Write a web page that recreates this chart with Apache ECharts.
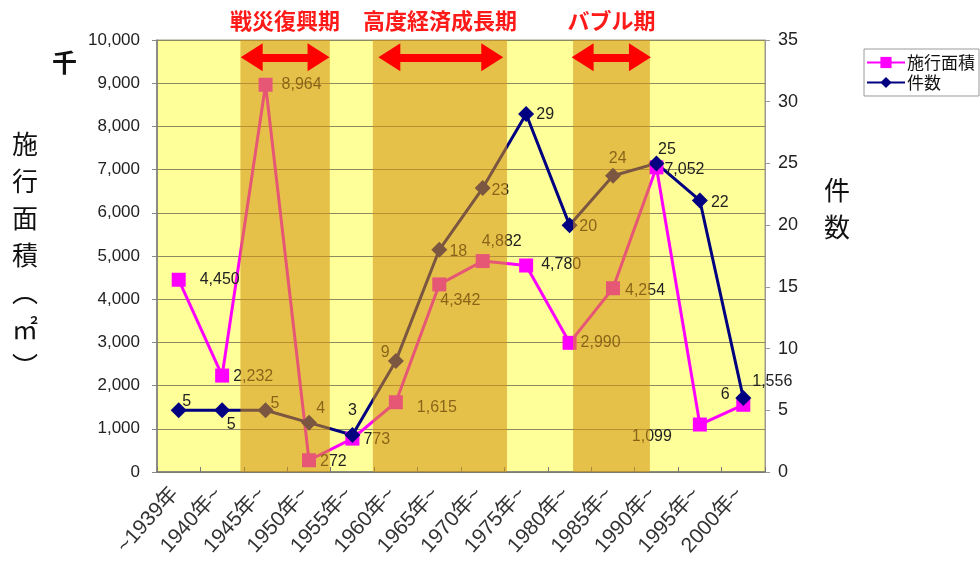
<!DOCTYPE html>
<html><head><meta charset="utf-8">
<script src="https://cdn.jsdelivr.net/npm/echarts@6/dist/echarts.min.js"></script>
<style>html,body{margin:0;padding:0;background:#fff}#c{width:980px;height:573px}</style>
</head><body><div id="c"></div>
<script>
// ---- data ----
const categories = ['~1939年','1940年~','1945年~','1950年~','1955年~','1960年~','1965年~','1970年~','1975年~','1980年~','1985年~','1990年~','1995年~','2000年~'];
const areaValues = [4450, 2232, 8964, 272, 773, 1615, 4342, 4882, 4780, 2990, 4254, 7052, 1099, 1556];
const countValues = [5, 5, 5, 4, 3, 9, 18, 23, 29, 20, 24, 25, 22, 6];
const leftAxisRange = [0, 10000, 1000];
const rightAxisRange = [0, 35, 5];
const periodNames = ['戦災復興期', '高度経済成長期', 'バブル期'];
const periodStart = [1.92, 4.97, 9.58];   // in category units
const periodEnd = [3.98, 8.06, 11.35];
const arrowStart = [2.18, 5.35, 9.8];
const arrowEnd = [3.72, 7.72, 11.12];
const arrowLevel = 9600;

// ---- label layout (style) ----
const areaLabelLayout = [['right',14,0],['right',4,1],['right',9,0],['right',4,1.5],['right',4,1.4],['right',14,5],['inside',21,16],['inside',19,-20],['right',8,-1],['right',4,0],['right',5,2.5],['right',1,2],['inside',-48,12.5],['inside',29,-23]];
const countLabelLayout = [[8,-8.6],[9,14.7],[9.4,-6.3],[11.7,-13.6],[0,-24],[-10.6,-8.2],[19,2],[17.6,2],[19,1],[18.7,1.6],[4.7,-17.5],[10.5,-13.4],[20,2],[-18,-3]];

const FONT = "'Liberation Sans','Noto Sans CJK JP',sans-serif";
const CJK = "'Noto Sans CJK JP',sans-serif";
const fmt = v => v.toLocaleString('en-US');

const areaData = areaValues.map((v, i) => {
  const [pos, dx, dy] = areaLabelLayout[i];
  return { value: v, label: { position: pos, distance: 0, offset: [dx, dy] } };
});
const countData = countValues.map((v, i) => {
  const [dx, dy] = countLabelLayout[i];
  return { value: v, label: { position: 'inside', offset: [dx, dy] } };
});

const chart = echarts.init(document.getElementById('c'), null, { renderer: 'canvas' });
chart.setOption({
  animation: false,
  textStyle: { fontFamily: FONT },
  grid: { left: 157, right: 215, top: 40, bottom: 101, show: true, backgroundColor: '#FFFF99', borderColor: '#9a9a8a', borderWidth: 1 },
  legend: {
    orient: 'vertical', left: 864, top: 49, padding: [5, 4, 5, 2], itemGap: 3,
    itemWidth: 38, itemHeight: 14, borderColor: '#9a9a9a', borderWidth: 1, borderRadius: 0,
    textStyle: { fontSize: 17, color: '#111', fontFamily: CJK, padding: [0, 0, 0, -3] },
    data: ['施行面積', '件数']
  },
  xAxis: [{
    type: 'category', data: categories, boundaryGap: true,
    axisLine: { lineStyle: { color: '#777', width: 1.5 } },
    axisTick: { show: true, inside: true, length: 5, lineStyle: { color: '#777' } },
    axisLabel: { rotate: 48, fontSize: 21, color: '#333', margin: 14, padding: [0, 6, 0, 0], interval: 0, fontFamily: FONT }
  }, {
    type: 'value', min: 0, max: categories.length, show: false
  }],
  yAxis: [{
    type: 'value', min: leftAxisRange[0], max: leftAxisRange[1], interval: leftAxisRange[2],
    axisLine: { show: true, lineStyle: { color: '#777', width: 1.5 } },
    axisTick: { show: true, length: 5, lineStyle: { color: '#888' } },
    axisLabel: { fontSize: 17, color: '#222', margin: 17, formatter: v => fmt(v) },
    splitLine: { show: true, lineStyle: { color: '#8c8a60', width: 1 } }
  }, {
    type: 'value', min: rightAxisRange[0], max: rightAxisRange[1], interval: rightAxisRange[2],
    axisLine: { show: true, lineStyle: { color: '#999' } },
    axisTick: { show: true, length: 5, lineStyle: { color: '#999' } },
    axisLabel: { fontSize: 18, color: '#222', margin: 13 },
    splitLine: { show: false }
  }],
  series: [{
    name: '施行面積', type: 'line', xAxisIndex: 0, yAxisIndex: 0, data: areaData, z: 2,
    symbol: 'rect', symbolSize: 14,
    lineStyle: { color: '#FF00FF', width: 3 }, itemStyle: { color: '#FF00FF' },
    label: { show: true, fontSize: 16, color: '#222', formatter: p => fmt(p.value) }
  }, {
    name: '件数', type: 'line', xAxisIndex: 0, yAxisIndex: 1, data: countData, z: 2,
    symbol: 'diamond', symbolSize: 16,
    lineStyle: { color: '#000080', width: 3 }, itemStyle: { color: '#000080' },
    label: { show: true, fontSize: 16, color: '#222' }
  }, {
    name: 'periods', type: 'line', xAxisIndex: 1, yAxisIndex: 0, z: 10, silent: true,
    data: [[0, 0]], showSymbol: false, lineStyle: { opacity: 0 },
    markArea: {
      z: 10, silent: true,
      itemStyle: { color: 'rgba(212,148,17,0.58)' },
      label: { show: true, position: 'top', distance: 8, color: '#FF1A1A', fontSize: 22, fontWeight: 'bold', fontFamily: CJK },
      data: periodNames.map((n, i) => [{ name: n, xAxis: periodStart[i], yAxis: leftAxisRange[0] }, { xAxis: periodEnd[i], yAxis: leftAxisRange[1] }])
    }
  }, {
    name: 'arrows', type: 'line', xAxisIndex: 1, yAxisIndex: 0, z: 11, silent: true,
    data: [[0, 0]], showSymbol: false, lineStyle: { opacity: 0 },
    markLine: {
      z: 11, silent: true, symbol: ['triangle', 'triangle'], symbolSize: [28, 22],
      lineStyle: { color: '#FF0000', width: 8, type: 'solid' },
      itemStyle: { color: '#FF0000' },
      label: { show: false },
      data: periodNames.map((n, i) => [{ coord: [arrowStart[i], arrowLevel] }, { coord: [arrowEnd[i], arrowLevel] }])
    }
  }],
  graphic: [
    { type: 'text', left: 52, top: 50, style: { text: '千', fontSize: 25, fontWeight: 'bold', fill: '#111', fontFamily: CJK } },
    { type: 'text', left: 12, top: 126, style: { text: '施\n行\n面\n積\n︵\n㎡\n︶', fontSize: 26, lineHeight: 37, fill: '#111', fontFamily: CJK, align: 'left' } },
    { type: 'text', left: 824, top: 172, style: { text: '件\n数', fontSize: 26, lineHeight: 37, fill: '#111', fontFamily: CJK } }
  ]
});
</script></body></html>
